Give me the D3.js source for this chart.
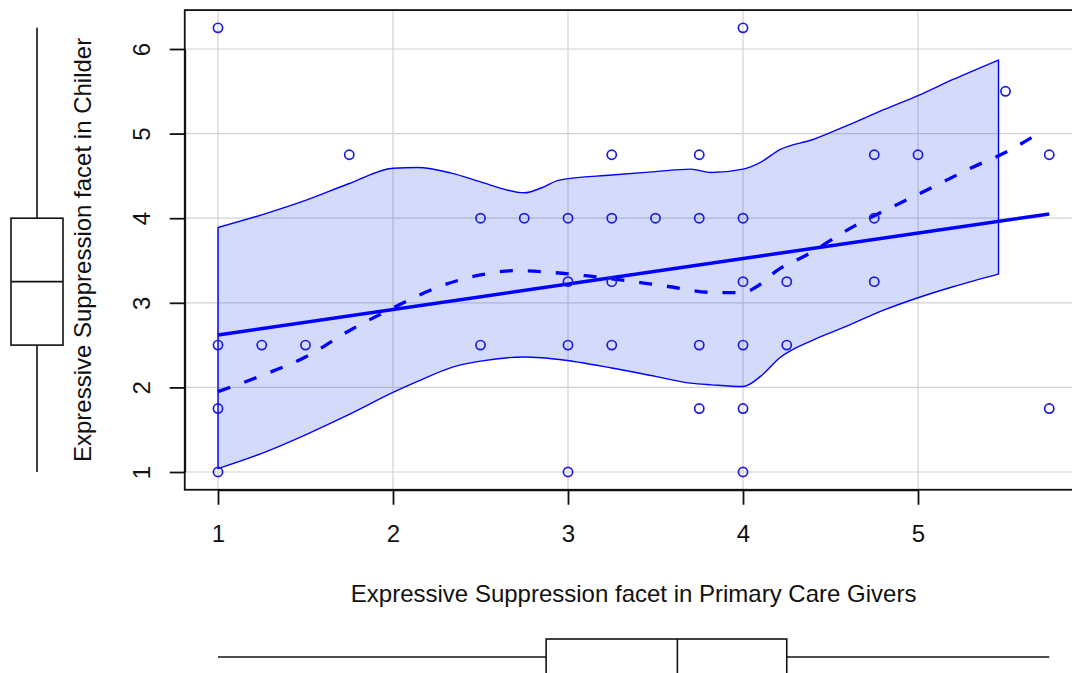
<!DOCTYPE html>
<html>
<head>
<meta charset="utf-8">
<script src="https://cdn.jsdelivr.net/npm/d3@7"></script>
<style>
  html, body { margin: 0; padding: 0; background: #fff; }
  svg { display: block; }
  text { font-family: "Liberation Sans", Arial, Helvetica, sans-serif; fill: #111; }
</style>
</head>
<body>
<svg id="chart" width="1072" height="673"></svg>
<script>
// ---- data ----
const xTicks = [1, 2, 3, 4, 5];
const yTicks = [1, 2, 3, 4, 5, 6];

const ptX = [1, 1, 1, 1, 1.25, 1.5, 1.75, 2.5, 2.5, 2.75, 3, 3, 3, 3, 3.25, 3.25, 3.25, 3.25, 3.5,
             3.75, 3.75, 3.75, 3.75, 4, 4, 4, 4, 4, 4, 4.25, 4.25, 4.75, 4.75, 4.75, 5, 5.5, 5.75, 5.75];
const ptY = [6.25, 2.5, 1.75, 1, 2.5, 2.5, 4.75, 4, 2.5, 4, 4, 3.25, 2.5, 1, 4.75, 4, 3.25, 2.5, 4,
             4.75, 4, 2.5, 1.75, 6.25, 4, 3.25, 2.5, 1.75, 1, 3.25, 2.5, 4.75, 4, 3.25, 4.75, 5.5, 4.75, 1.75];

const fitX = [1, 5.75];
const fitY = [2.62, 4.05];

const loessX = [1, 1.25, 1.5, 1.75, 2, 2.25, 2.5, 2.7, 2.9, 3.1, 3.3, 3.55, 3.85, 4, 4.07, 4.2, 4.35, 4.63, 4.75, 5, 5.3, 5.53, 5.67];
const loessY = [1.95, 2.14, 2.36, 2.67, 2.94, 3.18, 3.33, 3.38, 3.36, 3.32, 3.27, 3.20, 3.12, 3.12, 3.18, 3.39, 3.55, 3.90, 4.03, 4.28, 4.59, 4.81, 4.98];

const bandX     = [1, 1.25, 1.5, 1.75, 2, 2.14, 2.34, 2.5, 2.75, 2.85, 2.95, 3.25, 3.5, 3.7, 3.82, 4, 4.1, 4.21, 4.4, 4.6, 4.8, 5, 5.2, 5.46];
const bandUpper = [3.89, 4.04, 4.21, 4.41, 4.59, 4.60, 4.53, 4.43, 4.30, 4.36, 4.45, 4.51, 4.55, 4.58, 4.54, 4.58, 4.66, 4.81, 4.93, 5.10, 5.28, 5.45, 5.64, 5.87];
const bandLower = [1.04, 1.22, 1.44, 1.68, 1.94, 2.07, 2.24, 2.31, 2.36, 2.35, 2.33, 2.23, 2.13, 2.05, 2.03, 2.01, 2.13, 2.35, 2.56, 2.73, 2.91, 3.06, 3.19, 3.34];

const boxXStats = [1, 2.875, 3.625, 4.25, 5.75];   // min, q1, median, q3, max
const boxYStats = [1, 2.5, 3.25, 4, 6.25];

const xTitle = "Expressive Suppression facet in Primary Care Givers";
const yTitle = "Expressive Suppression facet in Childer";

// ---- drawing ----
const svg = d3.select("#chart");
svg.append("rect").attr("width", 1072).attr("height", 673).attr("fill", "#fff");

const x = d3.scaleLinear().domain([1, 5]).range([218, 918]);
const y = d3.scaleLinear().domain([1, 6]).range([472, 49]);

const plotL = x(0.81), plotR = x(5.94), plotT = y(6.46), plotB = y(0.79);
const blue = "#0000ff";
const fontSize = 24;

// grid
const grid = svg.append("g").attr("stroke", "#d2d2d2").attr("stroke-width", 1.2);
grid.selectAll("line.gx").data(xTicks).join("line")
  .attr("x1", d => x(d)).attr("x2", d => x(d)).attr("y1", plotT).attr("y2", plotB);
grid.selectAll("line.gy").data(yTicks).join("line")
  .attr("class", "gy")
  .attr("y1", d => y(d)).attr("y2", d => y(d)).attr("x1", plotL).attr("x2", plotR);

// confidence band
const bandData = bandX.map((v, i) => ({ x: v, lo: bandLower[i], hi: bandUpper[i] }));
const area = d3.area().curve(d3.curveMonotoneX)
  .x(d => x(d.x)).y0(d => y(d.lo)).y1(d => y(d.hi));
svg.append("path").datum(bandData)
  .attr("d", area)
  .attr("fill", "rgb(40,70,225)").attr("fill-opacity", 0.2)
  .attr("stroke", blue).attr("stroke-width", 1.4).attr("stroke-linejoin", "round");

// linear fit
const fitData = fitX.map((v, i) => ({ x: v, y: fitY[i] }));
svg.append("path").datum(fitData)
  .attr("d", d3.line().x(d => x(d.x)).y(d => y(d.y)))
  .attr("fill", "none").attr("stroke", blue).attr("stroke-width", 3.5);

// loess smoother
const loessData = loessX.map((v, i) => ({ x: v, y: loessY[i] }));
svg.append("path").datum(loessData)
  .attr("d", d3.line().curve(d3.curveMonotoneX).x(d => x(d.x)).y(d => y(d.y)))
  .attr("fill", "none").attr("stroke", blue).attr("stroke-width", 3.3)
  .attr("stroke-dasharray", "13,15");

// points
const pts = ptX.map((v, i) => ({ x: v, y: ptY[i] }));
svg.append("g").selectAll("circle").data(pts).join("circle")
  .attr("cx", d => x(d.x)).attr("cy", d => y(d.y)).attr("r", 4.6)
  .attr("fill", "none").attr("stroke", "#1c1ce0").attr("stroke-width", 1.7);

// frame
svg.append("rect")
  .attr("x", plotL).attr("y", plotT).attr("width", plotR - plotL).attr("height", plotB - plotT)
  .attr("fill", "none").attr("stroke", "#111").attr("stroke-width", 1.8);

// y axis
const gy = svg.append("g").attr("transform", `translate(${plotL},0)`)
  .call(d3.axisLeft(y).tickValues(yTicks).tickSize(15).tickSizeOuter(0).tickFormat(d3.format("d")));
gy.selectAll("path, line").attr("stroke", "#111").attr("stroke-width", 1.8);
gy.selectAll("text")
  .attr("x", 0).attr("dy", 0)
  .attr("transform", "translate(-35,0) rotate(-90)")
  .attr("text-anchor", "middle")
  .attr("fill", "#111")
  .style("font-size", fontSize + "px")
  .style("font-family", '"Liberation Sans", Arial, Helvetica, sans-serif');

// x axis
const gx = svg.append("g").attr("transform", `translate(0,${plotB})`)
  .call(d3.axisBottom(x).tickValues(xTicks).tickSize(15).tickSizeOuter(0).tickFormat(d3.format("d")));
gx.selectAll("path, line").attr("stroke", "#111").attr("stroke-width", 1.8);
gx.selectAll("text")
  .attr("y", 52).attr("dy", 0)
  .attr("fill", "#111")
  .style("font-size", fontSize + "px")
  .style("font-family", '"Liberation Sans", Arial, Helvetica, sans-serif');

// axis titles
svg.append("text")
  .attr("x", (plotL + plotR) / 2).attr("y", 601.5)
  .attr("text-anchor", "middle").style("font-size", fontSize + "px")
  .text(xTitle);
svg.append("text")
  .attr("transform", `translate(91,${(plotT + plotB) / 2}) rotate(-90)`)
  .attr("text-anchor", "middle").style("font-size", fontSize + "px")
  .text(yTitle);

// marginal boxplot (left, y variable)
const lb = svg.append("g").attr("stroke", "#111").attr("stroke-width", 1.6).attr("fill", "none");
const lcx = 37, lhw = 26;
lb.append("line").attr("x1", lcx).attr("x2", lcx).attr("y1", y(boxYStats[4])).attr("y2", y(boxYStats[3]));
lb.append("line").attr("x1", lcx).attr("x2", lcx).attr("y1", y(boxYStats[1])).attr("y2", y(boxYStats[0]));
lb.append("rect").attr("x", lcx - lhw).attr("width", 2 * lhw)
  .attr("y", y(boxYStats[3])).attr("height", y(boxYStats[1]) - y(boxYStats[3]));
lb.append("line").attr("x1", lcx - lhw).attr("x2", lcx + lhw).attr("y1", y(boxYStats[2])).attr("y2", y(boxYStats[2]));

// marginal boxplot (bottom, x variable)
const bb = svg.append("g").attr("stroke", "#111").attr("stroke-width", 1.6).attr("fill", "none");
const bcy = 657, bhw = 18;
bb.append("line").attr("y1", bcy).attr("y2", bcy).attr("x1", x(boxXStats[0])).attr("x2", x(boxXStats[1]));
bb.append("line").attr("y1", bcy).attr("y2", bcy).attr("x1", x(boxXStats[3])).attr("x2", x(boxXStats[4]));
bb.append("rect").attr("y", bcy - bhw).attr("height", 2 * bhw)
  .attr("x", x(boxXStats[1])).attr("width", x(boxXStats[3]) - x(boxXStats[1]));
bb.append("line").attr("y1", bcy - bhw).attr("y2", bcy + bhw).attr("x1", x(boxXStats[2])).attr("x2", x(boxXStats[2]));
</script>
</body>
</html>
